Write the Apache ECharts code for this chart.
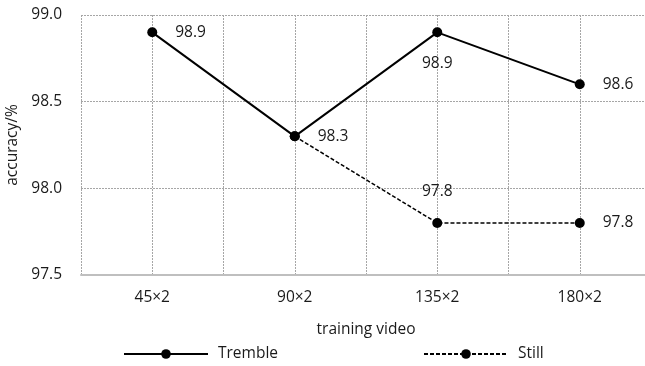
<!DOCTYPE html>
<html><head><meta charset="utf-8">
<script src="https://cdn.jsdelivr.net/npm/echarts@6/dist/echarts.min.js"></script>
<style>html,body{margin:0;padding:0;background:#fff}#c{width:645px;height:366px}</style>
</head><body><div id="c"></div>
<script>
const categories = ['45×2', '90×2', '135×2', '180×2'];
const tremble = [98.9, 98.3, 98.9, 98.6];
const still = [null, 98.3, 97.8, 97.8];
const yTicks = [97.5, 98.0, 98.5, 99.0];

const font = '"Open Sans", "Noto Sans", sans-serif';
const fs = 15.5;
const trembleLabelPos = ['right', 'right', 'bottom', 'right'];
const stillLabelPos = [null, null, 'top', 'right'];

function pts(arr, pos) {
  const out = [];
  arr.forEach((v, i) => {
    if (v === null) return;
    out.push({
      value: [i, v],
      label: pos[i] ? { show: true, position: pos[i] } : { show: false }
    });
  });
  return out;
}

const legendText = { fontSize: fs, color: '#1a1a1a', fontFamily: font, padding: [0, 0, 0, 5] };
const chart = echarts.init(document.getElementById('c'));
chart.setOption({
  animation: false,
  textStyle: { fontFamily: font },
  grid: { left: 81, right: -6, top: 15, bottom: 91, outerBoundsMode: 'none', containLabel: false },
  legend: [
    { data: ['Tremble'], left: 123, top: 346, padding: 0, itemWidth: 84, itemHeight: 12, itemGap: 0,
      textStyle: legendText },
    { data: ['Still'], left: 423, top: 346, padding: 0, itemWidth: 84, itemHeight: 12, itemGap: 0,
      textStyle: legendText }
  ],
  xAxis: {
    type: 'value', min: -0.5, max: 3.5, interval: 0.5,
    name: 'training video', nameLocation: 'middle', nameGap: 47,
    nameTextStyle: { fontSize: fs, color: '#1a1a1a' },
    axisLine: { show: true, lineStyle: { color: '#bfbfbf', width: 2 } },
    axisTick: { show: false },
    axisLabel: {
      fontSize: fs, color: '#1a1a1a', margin: 15,
      formatter: v => Number.isInteger(v) ? categories[v] : ''
    },
    splitLine: { show: true, lineStyle: { color: '#a6a6a6', type: [2, 1], width: 1 } }
  },
  yAxis: {
    type: 'value', min: yTicks[0], max: yTicks[yTicks.length - 1], interval: 0.5,
    name: 'accuracy/%', nameLocation: 'middle', nameGap: 58, nameRotate: 90,
    nameTextStyle: { fontSize: fs, color: '#1a1a1a' },
    axisLine: { show: false }, axisTick: { show: false },
    axisLabel: { fontSize: fs, color: '#1a1a1a', margin: 19, formatter: v => v.toFixed(1) },
    splitLine: { show: true, lineStyle: { color: '#a6a6a6', type: [2, 1], width: 1 } }
  },
  series: [
    {
      name: 'Tremble', type: 'line', data: pts(tremble, trembleLabelPos),
      symbol: 'circle', symbolSize: 10, showAllSymbol: true,
      lineStyle: { color: '#000', width: 2 }, itemStyle: { color: '#000' },
      label: { fontSize: fs, color: '#1a1a1a', distance: 18, formatter: p => p.value[1].toFixed(1) },
      z: 3
    },
    {
      name: 'Still', type: 'line', data: pts(still, stillLabelPos),
      symbol: 'circle', symbolSize: 10,
      lineStyle: { color: '#000', width: 1.5, type: [4, 2] }, itemStyle: { color: '#000' },
      label: { fontSize: fs, color: '#1a1a1a', distance: 18, formatter: p => p.value[1].toFixed(1) },
      z: 2
    }
  ]
});
</script></body></html>
